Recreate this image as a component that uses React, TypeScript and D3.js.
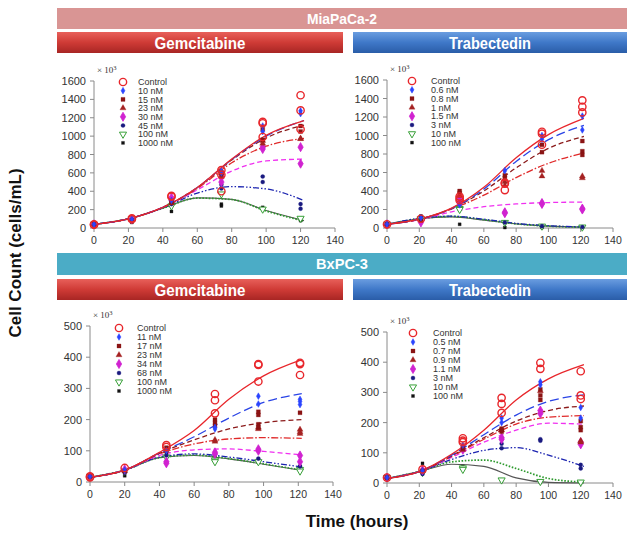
import React from 'react';
import * as d3 from 'd3';

// ---------- data ----------
const fitTimes = [0, 20, 40, 60, 80, 100, 122];

// MiaPaCa-2 / Gemcitabine
const tlLabels = ['Control', '10 nM', '15 nM', '23 nM', '30 nM', '45 nM', '100 nM', '1000 nM'];
const tlTimes = [0, 22, 45, 74, 98, 120];
const tlObs: number[][][] = [
  [[40, 35], [105, 95], [350, 340], [630, 580, 400], [1155, 1140, 990], [1445, 1280, 1075]],
  [[40], [95], [300], [620, 600], [1110, 1050], [1275, 1245]],
  [[40], [85], [290, 280], [610, 590], [1075, 960], [1110, 1050]],
  [[40], [90], [270], [600, 560], [950, 920], [975, 970]],
  [[40], [95], [330, 300], [550, 500], [880, 860], [880, 700]],
  [[40], [90], [260], [470, 430], [560, 500], [260, 210]],
  [[40], [100], [240], [370], [205], [105]],
  [[35], [60], [180], [260, 240], [225], [80]],
];
const tlFit: number[][] = [
  [40, 100, 225, 440, 750, 1010, 1170],
  [40, 100, 225, 440, 745, 1000, 1170],
  [40, 100, 225, 440, 740, 980, 1120],
  [40, 100, 225, 430, 710, 890, 975],
  [40, 100, 225, 415, 620, 730, 750],
  [40, 100, 220, 380, 450, 425, 300],
  [40, 100, 215, 325, 310, 185, 75],
  [40, 100, 215, 328, 312, 190, 80],
];

// MiaPaCa-2 / Trabectedin
const trLabels = ['Control', '0.6 nM', '0.8 nM', '1 nM', '1.5 nM', '3 nM', '10 nM', '100 nM'];
const trTimes = [0, 21, 45, 73, 96, 121];
const trObs: number[][][] = [
  [[40], [100], [340, 320, 300], [490, 480, 410], [1040, 1020, 900], [1380, 1310, 1250]],
  [[40], [110], [250], [620], [1000, 960], [1210, 1060]],
  [[40], [80], [400, 380], [570, 540], [900, 820], [940, 830, 790]],
  [[40], [90], [350], [500, 460], [620, 560], [560, 540]],
  [[40], [60], [310, 270], [170, 160], [270, 260], [210, 200]],
  [[40], [120], [270], [60], [20], [10]],
  [[40], [100], [210, 200], [60], [20], [10]],
  [[40], [130], [40], [5], [5], [5]],
];
const trFit: number[][] = [
  [40, 95, 215, 440, 760, 1010, 1185],
  [40, 95, 210, 420, 720, 955, 1110],
  [40, 95, 210, 400, 650, 860, 990],
  [40, 95, 205, 355, 545, 700, 810],
  [40, 90, 175, 230, 260, 275, 280],
  [40, 105, 128, 95, 50, 25, 10],
  [40, 100, 125, 90, 45, 20, 8],
  [40, 100, 120, 85, 45, 20, 8],
];

// BxPC-3 / Gemcitabine
const blLabels = ['Control', '11 nM', '17 nM', '23 nM', '34 nM', '68 nM', '100 nM', '1000 nM'];
const blTimes = [0, 20, 44, 72, 97, 121];
const blObs: number[][][] = [
  [[18, 15], [45], [118, 112], [282, 262, 220], [378, 375, 322], [382, 378, 343]],
  [[18], [38], [100], [175, 170], [275, 250], [265, 258, 248]],
  [[18], [35], [110], [200, 190, 180], [225, 215, 185, 175], [222]],
  [[18], [35], [100], [135, 130], [175, 170], [168, 160, 155]],
  [[18], [40], [65, 60], [95, 90], [105, 100], [85, 65]],
  [[18], [30], [85], [90], [75], [50]],
  [[18], [35], [80], [70, 65], [65], [40, 35]],
  [[18], [20], [95], [85], [65], [50]],
];
const blFit: number[][] = [
  [15, 38, 95, 165, 265, 340, 392],
  [15, 38, 93, 145, 205, 255, 283],
  [15, 38, 92, 135, 170, 190, 200],
  [15, 38, 90, 122, 138, 142, 140],
  [15, 38, 85, 103, 106, 98, 87],
  [15, 38, 80, 90, 80, 65, 48],
  [15, 38, 78, 86, 75, 58, 38],
  [15, 38, 78, 85, 74, 57, 37],
];

// BxPC-3 / Trabectedin
const brLabels = ['Control', '0.5 nM', '0.7 nM', '0.9 nM', '1.1 nM', '3 nM', '10 nM', '100 nM'];
const brTimes = [0, 22, 47, 71, 95, 120];
const brObs: number[][][] = [
  [[18], [45], [148, 140, 135], [282, 262, 232], [398, 378], [370, 290, 278]],
  [[18], [40], [125], [215, 200], [335, 325], [250, 215]],
  [[18], [40], [115], [180, 175, 170], [310, 290, 275], [205, 185, 175]],
  [[18], [40], [110], [175], [305], [140, 135]],
  [[18], [42], [110], [150, 145], [240, 230], [135, 128]],
  [[18], [30], [120, 110], [130, 115], [145, 140], [60, 48]],
  [[18], [35], [50, 45], [10], [5], [3]],
  [[18], [65], [55], [10], [3], [1]],
];
const brFit: number[][] = [
  [15, 38, 95, 175, 275, 345, 392],
  [15, 38, 92, 160, 225, 270, 292],
  [15, 38, 90, 150, 205, 240, 255],
  [15, 38, 88, 145, 195, 218, 223],
  [15, 38, 85, 135, 175, 198, 195],
  [15, 38, 78, 108, 117, 92, 55],
  [15, 38, 70, 76, 48, 15, 3],
  [15, 38, 62, 55, 17, 2, 0],
];

const xTicks = [0, 20, 40, 60, 80, 100, 120, 140];

// ---------- styles ----------
type LineStyle = { color: string; dash: string; width: number };
const lineStyles: LineStyle[] = [
  { color: '#e8262b', dash: '', width: 1.3 },
  { color: '#2a44e6', dash: '9,4', width: 1.3 },
  { color: '#8b1a1a', dash: '5,3', width: 1.3 },
  { color: '#e02a2a', dash: '7,2,1.5,2', width: 1.3 },
  { color: '#f030f0', dash: '5,3', width: 1.3 },
  { color: '#1c24b0', dash: '6,2,1.5,2,1.5,2', width: 1.3 },
  { color: '#2e9a2e', dash: '1.6,1.6', width: 1.7 },
  { color: '#555555', dash: '', width: 1.1 },
];

type MarkerStyle = { type: d3.SymbolType; size: number; fill: string; stroke: string; sw: number; rot: number };
const markerStyles: MarkerStyle[] = [
  { type: d3.symbolCircle, size: 42, fill: 'none', stroke: '#e8262b', sw: 1.4, rot: 0 },
  { type: d3.symbolDiamond, size: 13, fill: '#2a44ff', stroke: '#2a44ff', sw: 0.5, rot: 0 },
  { type: d3.symbolSquare, size: 16, fill: '#8b1414', stroke: '#8b1414', sw: 0.3, rot: 0 },
  { type: d3.symbolTriangle, size: 16, fill: '#a52222', stroke: '#a52222', sw: 0.3, rot: 0 },
  { type: d3.symbolDiamond, size: 24, fill: '#d022d0', stroke: '#d022d0', sw: 0.8, rot: 0 },
  { type: d3.symbolCircle, size: 13, fill: '#1a1a80', stroke: '#1a1a80', sw: 0.3, rot: 0 },
  { type: d3.symbolTriangle, size: 22, fill: '#ffffff', stroke: '#38a038', sw: 1, rot: 180 },
  { type: d3.symbolSquare, size: 9, fill: '#111111', stroke: '#111111', sw: 0.3, rot: 0 },
];

const FONT = "'Liberation Sans', Arial, sans-serif";

type PanelSpec = {
  labels: string[]; times: number[]; obs: number[][][]; fit: number[][];
  yMax: number; yStep: number;
  x0: number; x1: number; yb: number; yt: number;
  legX: number; legY: number; legDy: number; legTextDx: number;
};

function Marker({ m, x, y }: { m: MarkerStyle; x: number; y: number }) {
  const path = d3.symbol().type(m.type).size(m.size)() as string;
  return (
    <path d={path} transform={`translate(${x},${y}) rotate(${m.rot})`} fill={m.fill} stroke={m.stroke} strokeWidth={m.sw} />
  );
}

function Panel({ p }: { p: PanelSpec }) {
  const x = d3.scaleLinear().domain([0, 140]).range([p.x0, p.x1]);
  const y = d3.scaleLinear().domain([0, p.yMax]).range([p.yb, p.yt]);
  const line = d3.line<number>().x((_, i) => x(fitTimes[i])).y((d) => y(d)).curve(d3.curveMonotoneX);
  const yTicks = d3.range(0, p.yMax + 1, p.yStep);
  const order = d3.range(p.fit.length).reverse();
  return (
    <g>
      {/* axes */}
      <line x1={x(0)} x2={x(140)} y1={y(0)} y2={y(0)} stroke="#8a8a8a" strokeWidth={1} />
      <line x1={x(0)} x2={x(0)} y1={y(0)} y2={y(p.yMax)} stroke="#8a8a8a" strokeWidth={1} />
      {xTicks.map((t) => (
        <g key={'xt' + t}>
          <line x1={x(t)} x2={x(t)} y1={y(0)} y2={y(0) + 4} stroke="#8a8a8a" />
          <text x={x(t)} y={y(0) + 16} textAnchor="middle" fontSize={10.5} fill="#333" fontFamily={FONT}>{t}</text>
        </g>
      ))}
      {yTicks.map((t) => (
        <g key={'yt' + t}>
          <line x1={x(0) - 4} x2={x(0)} y1={y(t)} y2={y(t)} stroke="#8a8a8a" />
          <text x={x(0) - 8} y={y(t) + 4} textAnchor="end" fontSize={11} fill="#333" fontFamily={FONT}>{t}</text>
        </g>
      ))}
      <text x={x(0) + 3} y={y(p.yMax) - 8} fontSize={9} fill="#333" fontFamily="'Liberation Serif', 'DejaVu Serif', serif">
        × 10<tspan dy={-3} fontSize={6.5}>3</tspan>
      </text>
      {/* fitted curves */}
      {order.map((s) => (
        <path key={'f' + s} d={line(p.fit[s]) as string} fill="none" stroke={lineStyles[s].color}
          strokeWidth={lineStyles[s].width} strokeDasharray={lineStyles[s].dash || undefined} />
      ))}
      {/* observations */}
      {order.map((s) => (
        <g key={'o' + s}>
          {p.obs[s].map((vals, ti) => vals.map((v, k) => (
            <Marker key={ti + '-' + k} m={markerStyles[s]} x={x(p.times[ti])} y={y(v)} />
          )))}
        </g>
      ))}
      {/* legend */}
      {p.labels.map((lab, i) => (
        <g key={'l' + i}>
          <Marker m={markerStyles[i]} x={p.legX} y={p.legY + i * p.legDy} />
          <text x={p.legX + p.legTextDx} y={p.legY + i * p.legDy + 3.2} fontSize={9} fill="#333" fontFamily={FONT}>{lab}</text>
        </g>
      ))}
    </g>
  );
}

const panels: PanelSpec[] = [
  { labels: tlLabels, times: tlTimes, obs: tlObs, fit: tlFit, yMax: 1600, yStep: 200, x0: 94, x1: 335, yb: 228, yt: 81, legX: 123, legY: 82, legDy: 8.7, legTextDx: 15 },
  { labels: trLabels, times: trTimes, obs: trObs, fit: trFit, yMax: 1600, yStep: 200, x0: 387, x1: 613, yb: 228, yt: 80, legX: 412, legY: 81, legDy: 8.8, legTextDx: 19 },
  { labels: blLabels, times: blTimes, obs: blObs, fit: blFit, yMax: 500, yStep: 100, x0: 90, x1: 333, yb: 482, yt: 326, legX: 119, legY: 328, legDy: 9, legTextDx: 18 },
  { labels: brLabels, times: brTimes, obs: brObs, fit: brFit, yMax: 500, yStep: 100, x0: 387, x1: 613, yb: 483, yt: 332, legX: 413, legY: 333, legDy: 9, legTextDx: 20 },
];

function Banner({ x, y, w, h, fill, text, size, tl }: { x: number; y: number; w: number; h: number; fill: string; text: string; size: number; tl: number }) {
  return (
    <g>
      <rect x={x} y={y} width={w} height={h} fill={fill} />
      <text x={x + w / 2} y={y + h / 2 + size * 0.36} textAnchor="middle" fontSize={size} fontWeight="bold" fill="#fff"
        fontFamily={FONT} textLength={tl} lengthAdjust="spacingAndGlyphs">{text}</text>
    </g>
  );
}

export default function App() {
  return (
    <svg width={634} height={535} style={{ position: 'absolute', left: 0, top: 0, background: '#fff' }}>
      <defs>
        <linearGradient id="gRed" x1="0" y1="0" x2="0" y2="1">
          <stop offset="0" stopColor="#e8605a" />
          <stop offset="0.5" stopColor="#cf3b36" />
          <stop offset="1" stopColor="#a82624" />
        </linearGradient>
        <linearGradient id="gBlue" x1="0" y1="0" x2="0" y2="1">
          <stop offset="0" stopColor="#6a9de0" />
          <stop offset="0.5" stopColor="#3f78c8" />
          <stop offset="1" stopColor="#2a5da8" />
        </linearGradient>
      </defs>
      <rect width={634} height={535} fill="#fff" />
      <Banner x={57} y={8} w={570} h={21} fill="#d99594" text="MiaPaCa-2" size={15} tl={70} />
      <Banner x={57} y={32} w={286} h={21} fill="url(#gRed)" text="Gemcitabine" size={17} tl={91} />
      <Banner x={353} y={32} w={274} h={21} fill="url(#gBlue)" text="Trabectedin" size={17} tl={82} />
      <Banner x={57} y={253} w={570} h={22} fill="#4bacc6" text="BxPC-3" size={15} tl={52} />
      <Banner x={57} y={279} w={286} h={21} fill="url(#gRed)" text="Gemcitabine" size={17} tl={91} />
      <Banner x={353} y={279} w={274} h={21} fill="url(#gBlue)" text="Trabectedin" size={17} tl={82} />
      {panels.map((p, i) => <Panel key={i} p={p} />)}
      <text transform="translate(21,253) rotate(-90)" textAnchor="middle" fontSize={17} fontWeight="bold" fill="#111" fontFamily={FONT}>Cell Count (cells/mL)</text>
      <text x={357} y={527} textAnchor="middle" fontSize={17} fontWeight="bold" fill="#111" fontFamily={FONT}>Time (hours)</text>
    </svg>
  );
}
